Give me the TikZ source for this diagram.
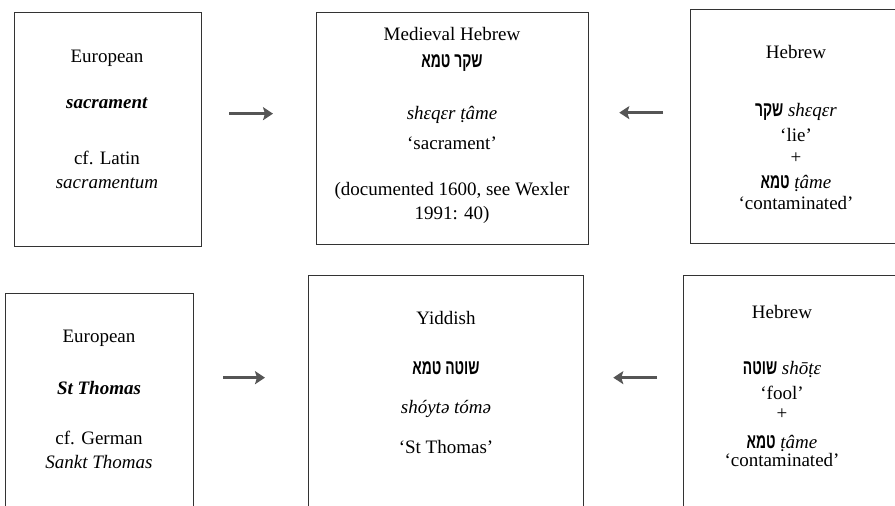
\documentclass[tikz,border=0pt]{standalone}
\usepackage{fontspec}
\setmainfont{Liberation Serif}
\newfontfamily\hebfont[Script=Hebrew,FakeStretch=0.66]{Liberation Sans}
\TeXXeTstate=1
\usetikzlibrary{arrows.meta}
\definecolor{framegrey}{HTML}{333333}
\definecolor{arrowgrey}{HTML}{555555}
\newcommand{\heb}[1]{{\hebfont\bfseries\fontsize{21}{24}\selectfont\beginR #1\endR}}

\begin{document}
\begin{tikzpicture}[x=1pt,y=-1pt,
  wordbox/.style={draw=framegrey,line width=1.3pt,anchor=north west,inner sep=0pt},
  txt/.style={anchor=base,align=center,inner sep=0pt,font=\fontsize{19}{24}\selectfont},
  arr/.style={-{Stealth[length=10pt,width=13pt,inset=2pt]},draw=arrowgrey,fill=arrowgrey,line width=2.6pt}]
  \useasboundingbox (0,0) rectangle (895,506);
  \clip (0,0) rectangle (895,506);
  % sacrament
  \node[wordbox,minimum width=187pt,minimum height=234pt] (eur1) at (14,12) {};
  \node[wordbox,minimum width=272pt,minimum height=232pt] (med) at (316,12) {};
  \node[wordbox,minimum width=215pt,minimum height=234pt] (heb1) at (690,9) {};
  % (anchor=base sits on the last line)
  \node[txt] (eur1txt) at (107,188) {European\\[22pt]
    \textbf{\textit{sacrament}}\\[32pt]
    cf. Latin\\ \textit{sacramentum}};
  \node[txt] (medtxt) at (452,219) {Medieval Hebrew\\[3pt]
    \heb{שקר טמא}\\[28pt]
    \textit{shɛqɛr ṭâme}\\[6pt]
    ‘sacrament’\\[22pt]
    (documented 1600, see Wexler\\ 1991: 40)};
  \node[txt] (heb1txt) at (796,209) {Hebrew\\[34pt]
    \heb{שקר}\ \textit{shɛqɛr}\\[1pt]
    ‘lie’\\[-2pt]
    +\\[1pt]
    \heb{טמא} \textit{ṭâme}\\[-3pt]
    ‘contaminated’};
  \draw[arr,shorten <=27pt,shorten >=43pt] ([yshift=16pt]eur1.east) -- ([yshift=15pt]med.west);
  \draw[arr,shorten <=27pt,shorten >=30pt] ([yshift=14pt]heb1.west) -- ([yshift=16pt]med.east);
  % St Thomas
  \node[wordbox,minimum width=188pt,minimum height=227pt] (eur2) at (5,293) {};
  \node[wordbox,minimum width=275pt,minimum height=245pt] (yid) at (308,275) {};
  \node[wordbox,minimum width=222pt,minimum height=245pt] (heb2) at (683,275) {};
  \node[txt] (eur2txt) at (99,468) {European\\[28pt]
    \textbf{\textit{St Thomas}}\\[26pt]
    cf. German\\ \textit{Sankt Thomas}};
  \node[txt] (yidtxt) at (446,453) {Yiddish\\[26pt]
    \heb{שוטה טמא}\\[15pt]
    \textit{shóytə tómə}\\[16pt]
    ‘St Thomas’};
  \node[txt] (heb2txt) at (782,466) {Hebrew\\[32pt]
    \heb{שוטה}\ \textit{shōṭɛ}\\[1pt]
    ‘fool’\\[-4pt]
    +\\[5pt]
    \heb{טמא} \textit{ṭâme}\\[-6pt]
    ‘contaminated’};
  \draw[arr,shorten <=29pt,shorten >=43pt] ([yshift=29.5pt]eur2.east) -- ([yshift=20.5pt]yid.west);
  \draw[arr,shorten <=26pt,shorten >=29pt] ([yshift=20.5pt]heb2.west) -- ([yshift=20.5pt]yid.east);
\end{tikzpicture}
\end{document}
